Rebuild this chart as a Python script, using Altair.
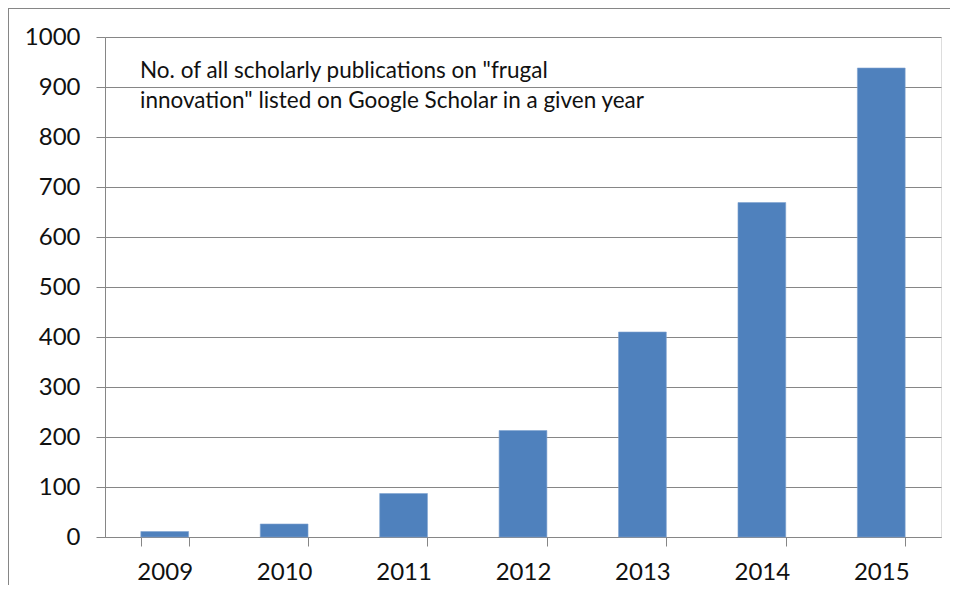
import altair as alt
import pandas as pd

years = ["2009", "2010", "2011", "2012", "2013", "2014", "2015"]
publications = [11, 26, 87, 213, 410, 669, 938]
y_ticks = [0, 100, 200, 300, 400, 500, 600, 700, 800, 900, 1000]
note = ['No. of all scholarly publications on "frugal',
        'innovation" listed on Google Scholar in a given year']

df = pd.DataFrame({"year": years, "count": publications})

GRAY = "#868686"
FONT = "Lato"

bars = alt.Chart(df).mark_bar(color="#4F81BD", stroke="#7FA3D0", strokeWidth=0.6).encode(
    x=alt.X("year:N", sort=years,
            scale=alt.Scale(paddingInner=0.6, paddingOuter=0.3),
            axis=alt.Axis(title=None, labelAngle=0, tickBand="extent", grid=False,
                          domainColor=GRAY, tickColor=GRAY, tickSize=9,
                          labelPadding=14, labelFontSize=24, labelFont=FONT,
                          labelColor="#111111")),
    y=alt.Y("count:Q",
            scale=alt.Scale(domain=[0, 1000], nice=False),
            axis=alt.Axis(title=None, values=y_ticks, format="d", grid=True, gridColor=GRAY,
                          gridWidth=1.2, domainColor=GRAY, tickColor=GRAY, tickSize=9,
                          labelPadding=16, labelFontSize=24, labelFont=FONT,
                          labelColor="#111111")),
)

text = alt.Chart(pd.DataFrame({"t": [note]})).mark_text(
    align="left", baseline="alphabetic", font=FONT, fontSize=22.5,
    lineHeight=30, color="#111111"
).encode(x=alt.value(35), y=alt.value(41), text="t:N")

border_left = alt.Chart(pd.DataFrame({"a": [0]})).mark_rule(
    color=GRAY, strokeWidth=2, clip=False
).encode(x=alt.value(-97), y=alt.value(-29), y2=alt.value(560))

border_top = alt.Chart(pd.DataFrame({"a": [0]})).mark_rule(
    color=GRAY, strokeWidth=2, clip=False
).encode(x=alt.value(-97), x2=alt.value(850), y=alt.value(-29))

chart = alt.layer(bars, text, border_left, border_top).properties(
    width=836, height=500,
    autosize=alt.AutoSizeParams(type="none"),
    padding={"left": 97, "top": 29, "right": 9, "bottom": 48},
).configure_view(stroke=None).configure(background="white")

chart.save("out.html", embed_options={"renderer": "svg", "actions": False})
